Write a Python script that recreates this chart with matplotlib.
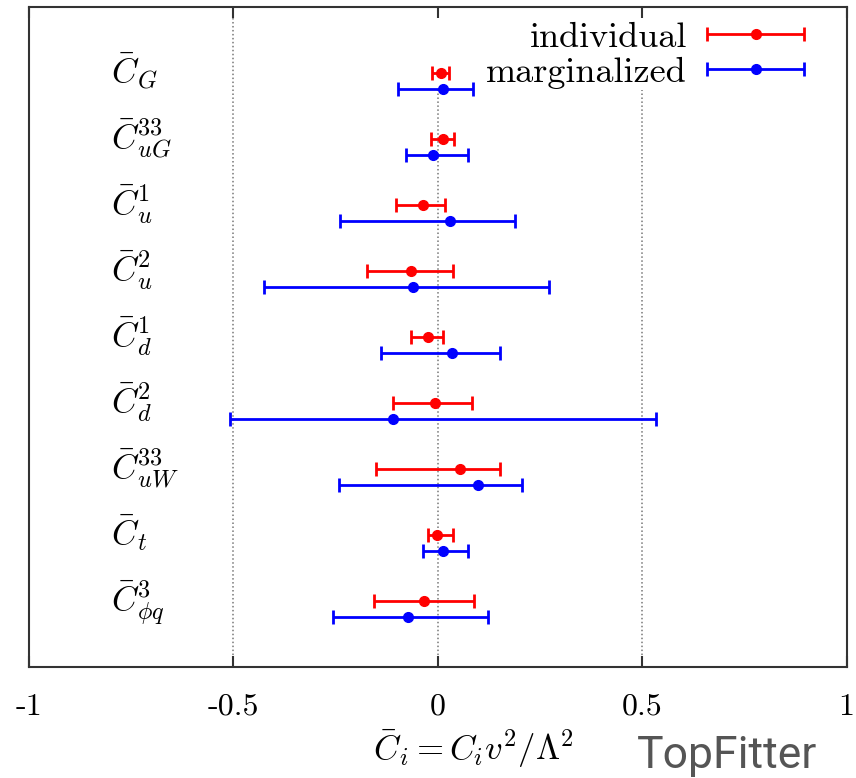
import matplotlib
matplotlib.use("Agg")
import matplotlib.pyplot as plt
from matplotlib.legend_handler import HandlerErrorbar

plt.rcParams["font.family"] = "cmr10"
plt.rcParams["mathtext.fontset"] = "cm"
plt.rcParams["axes.unicode_minus"] = False
plt.rcParams["axes.formatter.use_mathtext"] = True

# operator coefficients, top to bottom
labels = [r"$\bar{C}_{G}$", r"$\bar{C}_{uG}^{33}$", r"$\bar{C}_{u}^{1}$",
          r"$\bar{C}_{u}^{2}$", r"$\bar{C}_{d}^{1}$", r"$\bar{C}_{d}^{2}$",
          r"$\bar{C}_{uW}^{33}$", r"$\bar{C}_{t}$", r"$\bar{C}_{\phi q}^{3}$"]

# individual fits: best fit, lower and upper end of the interval
ind_val = [0.007, 0.012, -0.037, -0.066, -0.024, -0.007, 0.054, -0.002, -0.034]
ind_lo = [-0.015, -0.017, -0.103, -0.174, -0.066, -0.110, -0.152, -0.024, -0.156]
ind_hi = [0.027, 0.039, 0.017, 0.037, 0.012, 0.083, 0.152, 0.037, 0.088]

# marginalised fits
mar_val = [0.012, -0.012, 0.029, -0.061, 0.034, -0.110, 0.098, 0.012, -0.073]
mar_lo = [-0.098, -0.078, -0.240, -0.425, -0.139, -0.509, -0.242, -0.037, -0.257]
mar_hi = [0.086, 0.073, 0.188, 0.271, 0.152, 0.533, 0.205, 0.073, 0.122]

xticks = [-1, -0.5, 0, 0.5, 1]
xticklabels = ["-1", "-0.5", "0", "0.5", "1"]

fig = plt.figure(figsize=(8.56, 7.78), dpi=100)
ax = fig.add_axes([0.034, 0.143, 0.955, 0.848])

rows = list(range(1, len(labels) + 1))
y_ind = rows
y_mar = [r + 0.25 for r in rows]

ind_err = [[v - lo for v, lo in zip(ind_val, ind_lo)],
           [hi - v for v, hi in zip(ind_val, ind_hi)]]
mar_err = [[v - lo for v, lo in zip(mar_val, mar_lo)],
           [hi - v for v, hi in zip(mar_val, mar_hi)]]

# grid lines, the two on the right stop under the key
grid_kw = dict(color="#777777", lw=1.1, ls=(0, (1, 1.6)), zorder=0)
ax.axvline(-0.5, **grid_kw)
ax.axvline(0, ymax=0.874, **grid_kw)
ax.axvline(0.5, ymax=0.874, **grid_kw)

e1 = ax.errorbar(ind_val, y_ind, xerr=ind_err, fmt="o", color="red",
                 ms=7, elinewidth=2.0, capsize=5, capthick=2.0,
                 label="individual")
e2 = ax.errorbar(mar_val, y_mar, xerr=mar_err, fmt="o", color="blue",
                 ms=7, elinewidth=2.0, capsize=5, capthick=2.0,
                 label="marginalized")

for r, lab in zip(rows, labels):
    ax.text(-0.8, r + 0.15, lab, fontsize=25, ha="left", va="baseline")

ax.set_xlim(-1, 1)
ax.set_ylim(10, 0)
ax.set_yticks([])
ax.set_xticks(xticks)
ax.set_xticklabels(xticklabels, fontsize=23)
ax.tick_params(axis="x", direction="in", top=True, length=8, width=1.5,
               pad=19, color="#333333")
for s in ax.spines.values():
    s.set_color("#333333")
    s.set_linewidth(1.5)

leg = ax.legend(handles=[e1, e2], loc="upper right", markerfirst=False,
                fontsize=26, frameon=False, handlelength=2.7,
                handletextpad=0.55, labelspacing=0.08,
                bbox_to_anchor=(0.988, 1.027),
                handler_map={type(e1): HandlerErrorbar(xerr_size=1.35)})

fig.text(0.553, 0.023, r"$\bar{C}_i = C_i v^2/\Lambda^2$", fontsize=25,
         ha="center", va="baseline")
fig.text(0.744, 0.013, "TopFitter", fontsize=32, family="Roboto",
         color="#555555", ha="left", va="baseline")

fig.savefig("out.png", dpi=100)
